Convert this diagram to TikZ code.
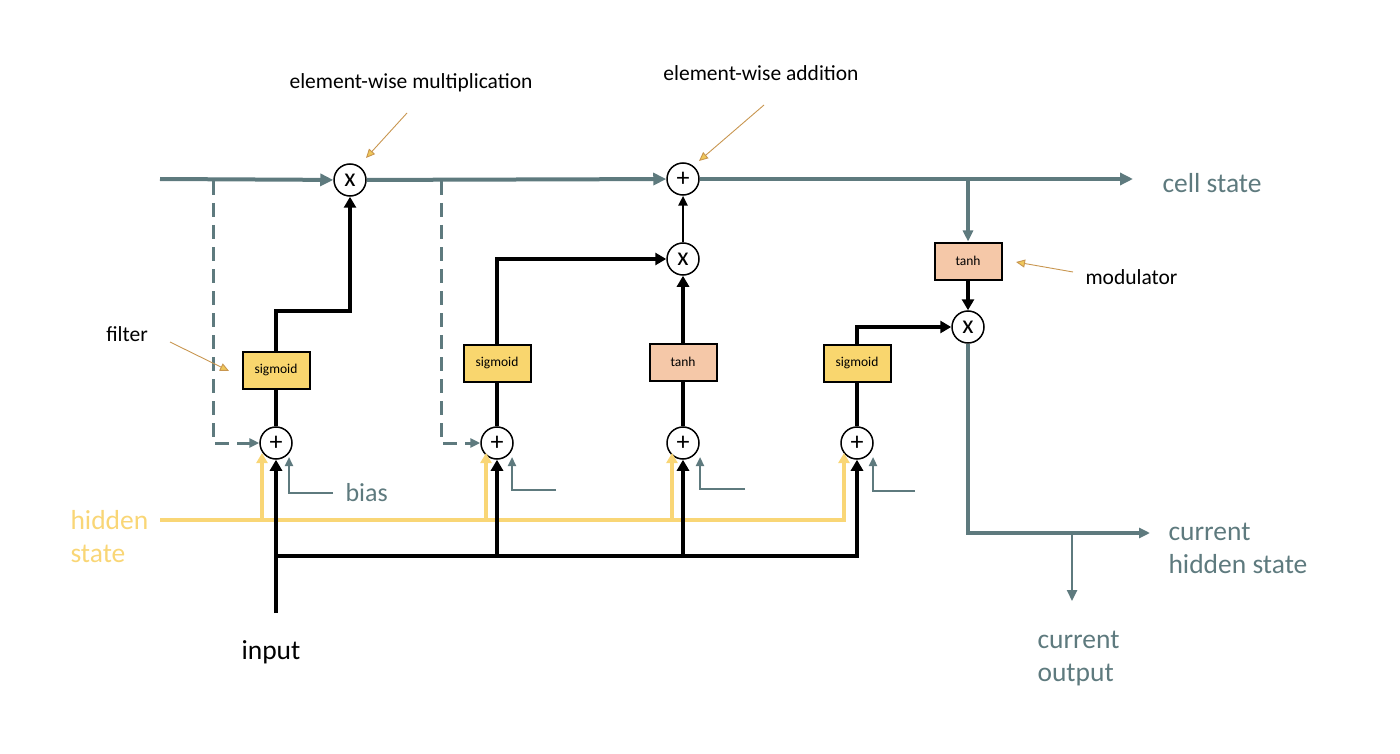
\documentclass[tikz,border=0pt]{standalone}
\usepackage{fontspec}
\setmainfont{Carlito}
\usetikzlibrary{arrows.meta,calc}
\definecolor{cgray}{RGB}{94,122,126}
\definecolor{hyel}{RGB}{249,214,118}
\definecolor{sigfill}{RGB}{249,214,110}
\definecolor{tanhfill}{RGB}{245,200,168}
\definecolor{annot}{RGB}{200,150,80}
\definecolor{annothead}{RGB}{240,200,90}
\tikzset{
  opcirc/.style={circle,draw=black,line width=1.5pt,fill=white,minimum size=32pt,inner sep=0pt,font=\fontsize{26}{26}\selectfont},
  sigbox/.style={draw=black,line width=2pt,fill=sigfill,minimum width=67pt,minimum height=37pt,inner sep=0pt,font=\fontsize{13.5}{14}\selectfont},
  tanhbox/.style={draw=black,line width=2pt,fill=tanhfill,minimum width=67pt,minimum height=37pt,inner sep=0pt,font=\fontsize{13.5}{14}\selectfont},
  cellline/.style={draw=cgray,line width=4pt,-{Triangle[length=13pt,width=12pt]}},
  grayarr/.style={draw=cgray,line width=3.2pt,-{Triangle[length=11pt,width=10pt]}},
  dashline/.style={draw=cgray,line width=3pt,dash pattern=on 14pt off 8pt,-{Triangle[length=10pt,width=9pt]}},
  blackline/.style={draw=black,line width=4.5pt},
  blackarr/.style={draw=black,line width=4.5pt,-{Triangle[length=11pt,width=12pt]}},
  thinblack/.style={draw=black,line width=2.5pt,-{Triangle[length=10pt,width=9pt]}},
  yelarr/.style={draw=hyel,line width=4pt,-{Triangle[length=10pt,width=11pt]}},
  biasarr/.style={draw=cgray,line width=2.2pt,-{Triangle[length=9pt,width=8pt]}},
  annarr/.style={draw=annot,line width=0.9pt,-{Triangle[open,length=9pt,width=8pt,fill=annothead]}},
  lbl/.style={font=\fontsize{21.5}{24}\selectfont,text=black},
  biglbl/.style={font=\fontsize{27.5}{33}\selectfont,align=left},
}
\begin{document}
\begin{tikzpicture}[x=1pt,y=-1pt]
\useasboundingbox (0,0) rectangle (1400,754);
% operation circles
\node[opcirc] (mul1) at (350,180) {x};
\node[opcirc] (add1) at (683,179) {+};
\node[opcirc] (mul2) at (683,259) {x};
\node[opcirc] (mul3) at (968,327) {x};
\node[opcirc] (p1) at (276,443) {+};
\node[opcirc] (p2) at (497,443) {+};
\node[opcirc] (p3) at (683,443) {+};
\node[opcirc] (p4) at (857,443) {+};
% boxes
\node[sigbox] (s1) at (276,370) {sigmoid};
\node[sigbox] (s2) at (497,363) {sigmoid};
\node[tanhbox] (t1) at (683,362) {tanh};
\node[tanhbox] (t2) at (968,261) {tanh};
\node[sigbox] (s3) at (857,363) {sigmoid};
% free coordinates
\coordinate (cin) at (160,179);
\coordinate (cout) at (1133,179);
\coordinate (hin) at (160,520);
\coordinate (xin) at (276,613);
\coordinate (hout) at (1150,533);
\coordinate (oout) at (1072,601);
% cell state line
\draw[cellline] (cin) -- (mul1);
\draw[cellline] (mul1) -- (add1);
\draw[cellline] (add1) -- (cout);
\draw[grayarr] (968,181) -- (t2.north);
% dashed peepholes
\draw[dashline] (213,181) |- (p1.west);
\draw[dashline] (441,181) |- (p2.west);
% gates to multiplications
\draw[blackarr] (s1.north) -- (276,311) -| (mul1.south);
\draw[blackarr] (s2.north) |- (mul2.west);
\draw[blackarr] (t1.north) -- (mul2.south);
\draw[thinblack] (mul2.north) -- (add1.south);
\draw[blackarr] (t2.south) -- (mul3.north);
\draw[blackarr] (s3.north) |- (mul3.west);
% sums to gates
\draw[blackline] (p1.north) -- (s1.south);
\draw[blackline] (p2.north) -- (s2.south);
\draw[blackline] (p3.north) -- (t1.south);
\draw[blackline] (p4.north) -- (s3.south);
% output
\draw[grayarr] (mul3.south) |- (hout);
\draw[grayarr,line width=2.4pt] (1072,533) -- (oout);
% hidden state inputs
\draw[draw=hyel,line width=4pt] (hin) -- (846,520);
\draw[yelarr] (262,520) -- (262,453);
\draw[yelarr] (486,520) -- (486,453);
\draw[yelarr] (672,520) -- (672,453);
\draw[yelarr] (844,522) -- (844,453);
% input x
\draw[blackarr] (xin) -- (p1.south);
\draw[blackline] (276,556) -- (859,556);
\draw[blackarr] (857,558) -- (p4.south);
\draw[blackarr] (497,558) -- (p2.south);
\draw[blackarr] (683,558) -- (p3.south);
% biases
\draw[biasarr] (333,493) -- (289,493) -- (289,457);
\draw[biasarr] (556,490) -- (512,490) -- (512,457);
\draw[biasarr] (745,489) -- (700,489) -- (700,457);
\draw[biasarr] (915,491) -- (873,491) -- (873,457);
% labels
\node[lbl] (lmul) at (411,83) {element-wise multiplication};
\node[lbl] (ladd) at (761,73) {element-wise addition};
\node[lbl] (lfilter) at (127,334) {filter};
\node[lbl,anchor=west] (lmod) at (1082,277) {modulator};
\node[biglbl,text=cgray,anchor=west] (lcell) at (1159,183) {cell state};
\node[biglbl,text=hyel,anchor=west] (lhid) at (67,537) {hidden\\state};
\node[biglbl,text=black] (linput) at (271,652) {input};
\node[font=\fontsize{26}{30}\selectfont,text=cgray,anchor=west] (lbias) at (342,493) {bias};
\node[biglbl,text=cgray,anchor=west] (lchid) at (1165,548) {current\\hidden state};
\node[biglbl,text=cgray,anchor=west] (lcout) at (1034,659) {current\\output};
% annotation arrows
\draw[annarr] (407,113) -- (366,158);
\draw[annarr] (764,105) -- (699,161);
\draw[annarr] (170,342) -- (229,371);
\draw[annarr] (1073,272) -- (1016,262);
\end{tikzpicture}
\end{document}
